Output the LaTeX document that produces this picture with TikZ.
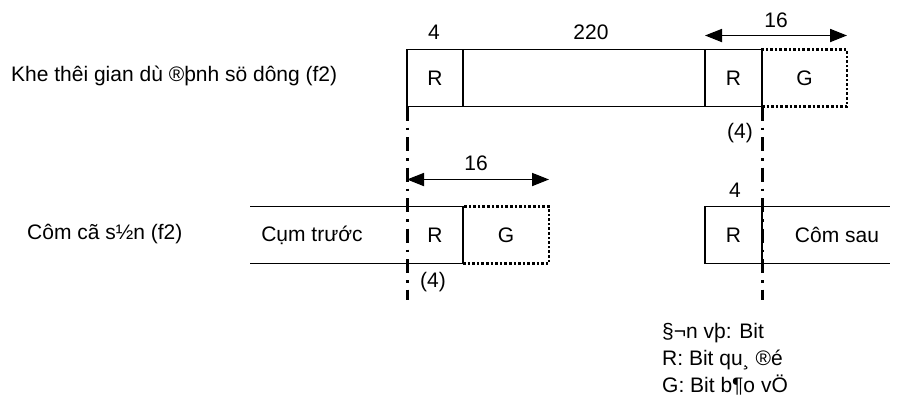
\documentclass[tikz,border=0pt]{standalone}
\usepackage{fontspec}
\setmainfont{Liberation Sans}
\usetikzlibrary{calc,positioning,arrows.meta}
\tikzset{
  seg/.style={draw, line width=1.8pt, minimum height=57pt, inner sep=0pt, outer sep=0pt},
  gbox/.style={draw, line width=2.6pt, dash pattern=on 2.6pt off 2pt, minimum height=57pt, inner sep=0pt, outer sep=0pt},
  guide/.style={line width=3pt, dash pattern=on 14pt off 7pt on 2.5pt off 7pt},
  dim/.style={line width=1.8pt, {Triangle[length=17pt,width=13pt]}-{Triangle[length=17pt,width=13pt]}},
  edge/.style={line width=1.8pt},
  lbl/.style={inner sep=0pt, font=\fontsize{21}{25}\selectfont}
}
\begin{document}
\begin{tikzpicture}[x=1pt,y=-1pt]
  \useasboundingbox (0,0) rectangle (911,400);
  % top row: planned slot
  \node[lbl, anchor=west] (slotlbl) at (11,76) {Khe thêi gian dù ®þnh sö dông (f2)};
  \node[seg, minimum width=56pt] (r1) at (435,78) {};
  \node[seg, minimum width=242pt, right=0pt of r1] (data) {};
  \node[seg, minimum width=57pt, right=0pt of data] (r2) {};
  \node[gbox, minimum width=85pt, right=0pt of r2] (g1) {};
  \node[lbl] at (r1) {R};
  \node[lbl] at (r2) {R};
  \node[lbl] at (g1) {G};
  \node[lbl] (n4a) at (434,32) {4};
  \node[lbl] (n220) at (591,32) {220};
  \coordinate (da) at ($(r2.north west)+(0,-14)$);
  \coordinate (db) at ($(g1.north east)+(0,-14)$);
  \draw[dim] (da) -- (db);
  \node[lbl] (n16a) at (776,20) {16};
  % bottom row: existing bursts
  \node[lbl, anchor=west] (burstlbl) at (27,234) {Côm cã s½n (f2)};
  \node[seg, minimum width=56pt] (r3) at (435,235) {};
  \node[gbox, minimum width=86pt, right=0pt of r3] (g2) {};
  \coordinate (lt) at (250,206.5);
  \coordinate (lb) at (250,263.5);
  \draw[edge] (lt) -- (r3.north west);
  \draw[edge] (lb) -- (r3.south west);
  \draw[white, line width=2.4pt] ($(r3.north west)+(0,1.2)$) -- ($(r3.south west)+(0,-1.2)$);
  \node[lbl] (prev) at (312,235) {Cụm trước};
  \node[lbl] at (r3) {R};
  \node[lbl] at (g2) {G};
  \coordinate (dc) at ($(r3.north west)+(0,-27)$);
  \coordinate (dd) at ($(g2.north east)+(0,-27)$);
  \draw[dim] (dc) -- (dd);
  \node[lbl] (n16b) at (476,163) {16};
  \node[seg, minimum width=57pt] (r4) at (733.5,235) {};
  \coordinate (rt) at (890,206.5);
  \coordinate (rb) at (890,263.5);
  \draw[edge] (r4.north east) -- (rt);
  \draw[edge] (r4.south east) -- (rb);
  \node[lbl] at (r4) {R};
  \node[lbl] (next) at (837,235) {Côm sau};
  \node[lbl] (n4b) at (735,190) {4};
  % guide lines
  \coordinate (ga) at (407,300);
  \coordinate (gb) at (762,300);
  \draw[guide] (r1.south west) -- (ga);
  \draw[guide] (r2.south east) -- (gb);
  \node[lbl] (p4a) at (740,133) {(4)};
  \node[lbl] (p4b) at (433,282) {(4)};
  % legend
  \node[lbl, anchor=base west] (leg1) at (662,338) {§¬n vþ: Bit};
  \node[lbl, anchor=base west] (leg2) at (662,365) {R: Bit qu¸ ®é};
  \node[lbl, anchor=base west] (leg3) at (662,392) {G: Bit b¶o vÖ};
\end{tikzpicture}
\end{document}
